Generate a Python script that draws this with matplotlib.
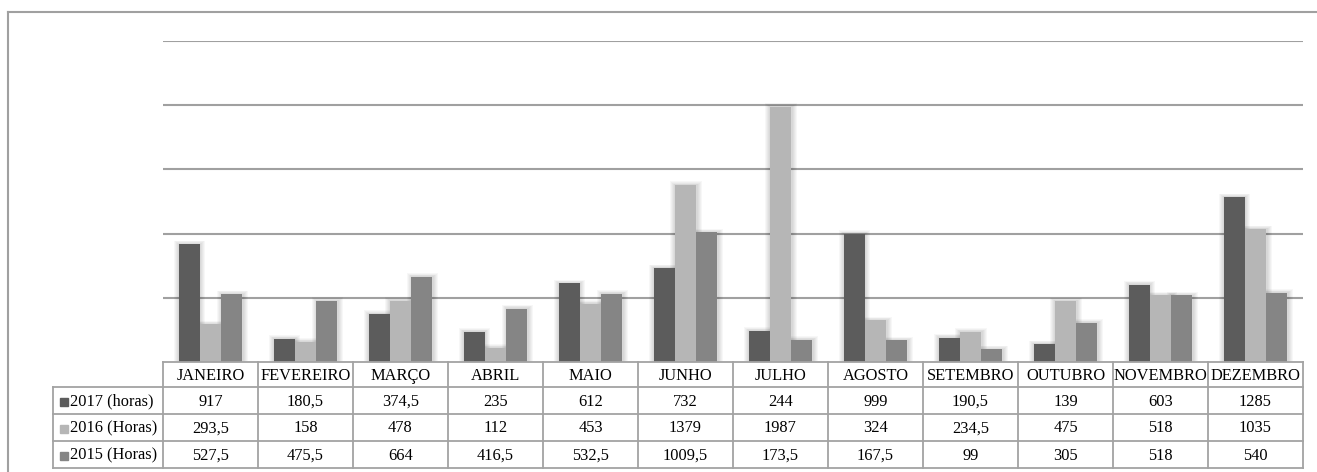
import numpy as np
import matplotlib.pyplot as plt
from matplotlib.lines import Line2D

plt.rcParams["font.family"] = ["Liberation Serif", "DejaVu Serif"]

months = ["JANEIRO", "FEVEREIRO", "MARÇO", "ABRIL", "MAIO", "JUNHO",
          "JULHO", "AGOSTO", "SETEMBRO", "OUTUBRO", "NOVEMBRO", "DEZEMBRO"]
series_names = ["2017 (horas)", "2016 (Horas)", "2015 (Horas)"]
hours_2017 = [917, 180.5, 374.5, 235, 612, 732, 244, 999, 190.5, 139, 603, 1285]
hours_2016 = [293.5, 158, 478, 112, 453, 1379, 1987, 324, 234.5, 475, 518, 1035]
hours_2015 = [527.5, 475.5, 664, 416.5, 532.5, 1009.5, 173.5, 167.5, 99, 305, 518, 540]
colors = ["#5c5c5c", "#b6b6b6", "#858585"]

series = [hours_2017, hours_2016, hours_2015]


def fmt(v):
    s = f"{v:g}"
    return s.replace(".", ",")


W, H = 1317, 472
fig = plt.figure(figsize=(W / 100, H / 100), dpi=100)

# plot area in pixels: x 163..1303, y 41..362
ax = fig.add_axes([163 / W, (H - 362) / H, 1140 / W, 321 / H])
ax.set_xlim(-0.5, 11.5)
ax.set_ylim(0, 2500)
for s in ax.spines.values():
    s.set_visible(False)
ax.set_xticks([])
ax.set_yticks([])
for yv in range(500, 2501, 500):
    ax.axhline(yv, color="#a0a0a0", lw=1.5, zorder=0)

x = np.arange(len(months))
bw = 0.222
px_x = 1 / 95.0
px_y = 2500 / 321.0
for i, (vals, col) in enumerate(zip(series, colors)):
    pos = x + (i - 1) * bw
    # soft shadow
    for k in range(1, 6):
        ax.bar(pos + px_x * 0.5, np.array(vals) + k * px_y * 0.7,
               width=bw + 2 * k * px_x, bottom=0, color="black",
               alpha=0.03, lw=0, zorder=1)
    ax.bar(pos, vals, width=bw, color=col, lw=0, zorder=2)

# data table below the bars
tab = fig.add_axes([163 / W, (H - 468) / H, 1140 / W, 106 / H], sharex=ax)
tab.set_ylim(106, 0)
tab.axis("off")
label_left = -0.5 - 110 * px_x
line_kw = dict(color="#a3a3a3", lw=1.3, clip_on=False)
rows = [0, 25, 52, 79, 106]
fs = 11.8

# horizontal lines
tab.plot([-0.5, 11.5], [rows[0], rows[0]], **line_kw)
for r in rows[1:]:
    tab.plot([label_left, 11.5], [r, r], **line_kw)
# vertical lines
tab.plot([label_left, label_left], [rows[1], rows[-1]], **line_kw)
for b in np.arange(-0.5, 12, 1.0):
    tab.plot([b, b], [rows[0], rows[-1]], **line_kw)

for j, m in enumerate(months):
    tab.text(j, (rows[0] + rows[1]) / 2 + 1, m, ha="center", va="center",
             fontsize=fs, clip_on=False)
for i, (name, vals, col) in enumerate(zip(series_names, series, colors)):
    yc = (rows[i + 1] + rows[i + 2]) / 2 + 1
    tab.plot([label_left + 10.5 * px_x], [yc], marker="s", ms=5.5, color=col,
             ls="none", clip_on=False)
    tab.text(label_left + 17 * px_x, yc, name, ha="left", va="center",
             fontsize=fs, clip_on=False)
    for j, v in enumerate(vals):
        tab.text(j, yc, fmt(v), ha="center", va="center", fontsize=fs,
                 clip_on=False)

# outer chart frame (top and left edges visible)
fig.add_artist(Line2D([8 / W, 8 / W], [0, (H - 12) / H], color="#a0a0a0",
                      lw=1.5, transform=fig.transFigure))
fig.add_artist(Line2D([8 / W, 1], [(H - 12) / H, (H - 12) / H],
                      color="#a0a0a0", lw=1.5, transform=fig.transFigure))

fig.savefig("out.png", dpi=100)
